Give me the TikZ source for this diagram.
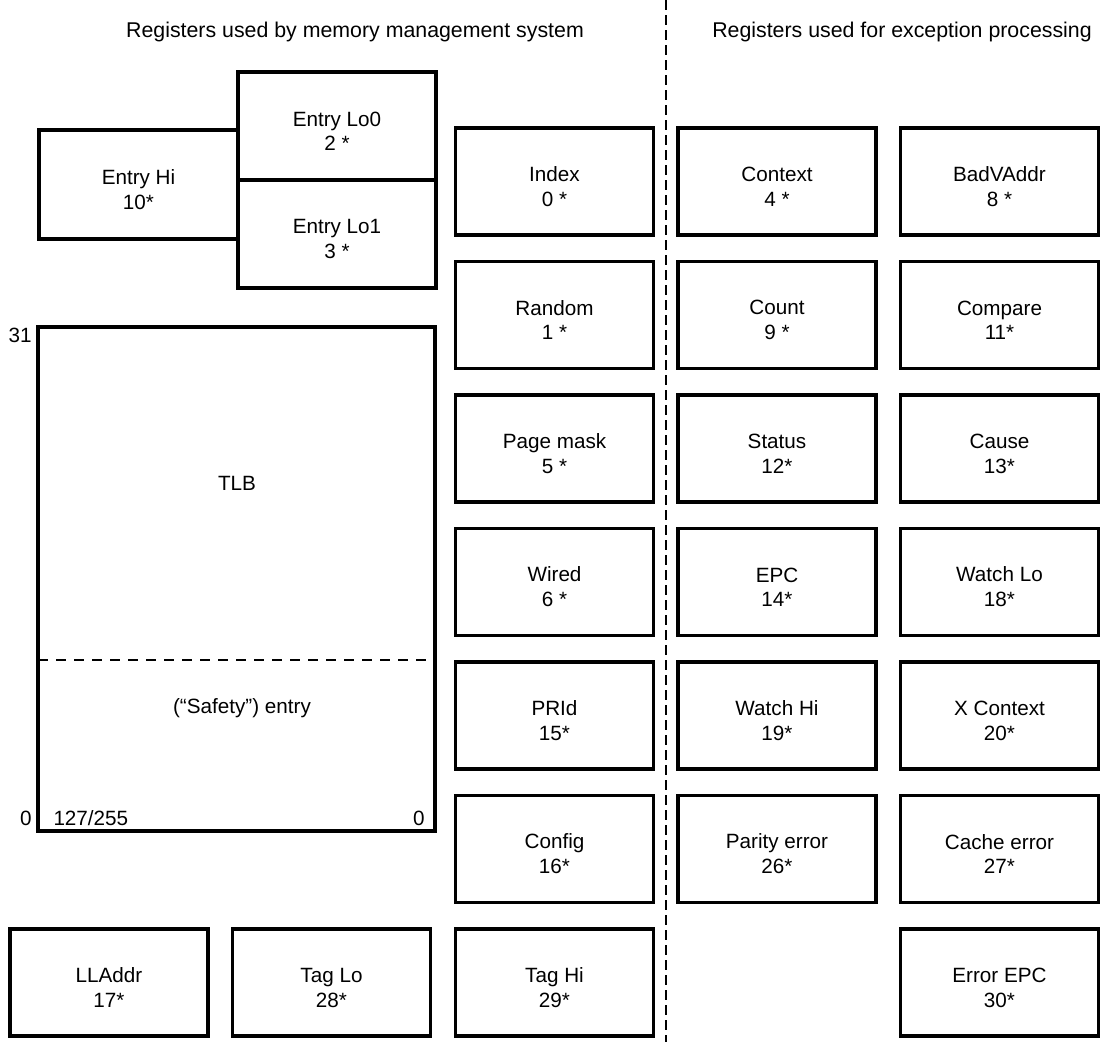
\documentclass[tikz,border=0pt]{standalone}
\usepackage{fontspec}
\setmainfont{Liberation Sans}

\newcommand{\regfont}{\fontsize{15.5}{18.5}\selectfont}
\newcommand{\ttlfont}{\fontsize{16}{19}\selectfont}
\tikzset{every picture/.style={line width=0.75pt}}
\tikzset{
  reg/.style={draw, line width=2.4pt, minimum width=148.5pt, minimum height=80.25pt, align=center, inner sep=0pt, text height=37pt, font=\regfont},
  lbl/.style={inner sep=0.75pt, font=\regfont},
  divdash/.style={line width=1.5pt, dash pattern=on 7.5pt off 3.75pt},
  tlbdash/.style={line width=1.5pt, dash pattern=on 7.5pt off 6pt},
}

\begin{document}
\begin{tikzpicture}[x=0.75pt,y=0.75pt,yscale=-1,xscale=1]
        %set diagram to the size of the reference
        \useasboundingbox (0,0) rectangle (1113,1042);

        % Text Node
        \draw (355,32) node (ttlmem) [lbl, font=\ttlfont] {Registers used by memory management system};
        % Text Node
        \draw (902,32) node (ttlexc) [lbl, font=\ttlfont] {Registers used for exception processing};

        %Straight Lines
        \coordinate (divtop) at (666,0);
        \coordinate (divbot) at (666,1042);
        \draw [divdash] (divtop) -- (divbot);

        %Shape: Rectangle
        \draw (138.5,184.5) node (entryhi) [reg, minimum width=149.25pt, minimum height=81.75pt] {Entry Hi\\10*};
        %Shape: Rectangle
        \draw (337,126) node (entrylo0) [reg, minimum height=81pt] {Entry Lo0\\2 *};
        %Shape: Rectangle
        \draw (337,234) node (entrylo1) [reg, minimum height=81pt] {Entry Lo1\\3 *};

        %Shape: Rectangle
        \draw (236.5,579) node (tlb) [reg, text height=0pt, minimum width=297.75pt, minimum height=378pt] {};
        %Straight Lines
        \coordinate (safel) at (38,660);
        \coordinate (safer) at (435,660);
        \draw [tlbdash] (safel) -- (safer);
        % Text Node
        \draw (237,483) node (tlbname) [lbl] {TLB};
        % Text Node
        \draw (242,708) node (safety) [lbl] {(“Safety”) entry};
        % Text Node
        \draw (33,335) node (tlbhi) [lbl, anchor=east] {31};
        % Text Node
        \draw (33,818) node (tlblo) [lbl, anchor=east] {0};
        % Text Node
        \draw (52,818) node (tlbsize) [lbl, anchor=west] {127/255};
        % Text Node
        \draw (426,818) node (tlbzero) [lbl, anchor=east] {0};

        %Shape: Rectangle
        \draw (109,982.5) node (lladdr) [reg] {LLAddr\\17*};
        %Shape: Rectangle
        \draw (331.5,982.5) node (taglo) [reg] {Tag Lo\\28*};

        %Shape: Rectangle
        \draw (554.5,181.5) node (index) [reg] {Index\\0 *};
        %Shape: Rectangle
        \draw (554.5,315) node (random) [reg] {Random\\1 *};
        %Shape: Rectangle
        \draw (554.5,448.5) node (pagemask) [reg] {Page mask\\5 *};
        %Shape: Rectangle
        \draw (554.5,582) node (wired) [reg] {Wired\\6 *};
        %Shape: Rectangle
        \draw (554.5,715.5) node (prid) [reg] {PRId\\15*};
        %Shape: Rectangle
        \draw (554.5,849) node (config) [reg] {Config\\16*};
        %Shape: Rectangle
        \draw (554.5,982.5) node (taghi) [reg] {Tag Hi\\29*};

        %Shape: Rectangle
        \draw (777,181.5) node (context) [reg] {Context\\4 *};
        %Shape: Rectangle
        \draw (777,315) node (count) [reg] {Count\\9 *};
        %Shape: Rectangle
        \draw (777,448.5) node (status) [reg] {Status\\12*};
        %Shape: Rectangle
        \draw (777,582) node (epc) [reg] {EPC\\14*};
        %Shape: Rectangle
        \draw (777,715.5) node (watchhi) [reg] {Watch Hi\\19*};
        %Shape: Rectangle
        \draw (777,849) node (parity) [reg] {Parity error\\26*};

        %Shape: Rectangle
        \draw (999.5,181.5) node (badvaddr) [reg] {BadVAddr\\8 *};
        %Shape: Rectangle
        \draw (999.5,315) node (compare) [reg] {Compare\\11*};
        %Shape: Rectangle
        \draw (999.5,448.5) node (cause) [reg] {Cause\\13*};
        %Shape: Rectangle
        \draw (999.5,582) node (watchlo) [reg] {Watch Lo\\18*};
        %Shape: Rectangle
        \draw (999.5,715.5) node (xcontext) [reg] {X Context\\20*};
        %Shape: Rectangle
        \draw (999.5,849) node (cacheerr) [reg] {Cache error\\27*};
        %Shape: Rectangle
        \draw (999.5,982.5) node (errorepc) [reg] {Error EPC\\30*};

\end{tikzpicture}
\end{document}
